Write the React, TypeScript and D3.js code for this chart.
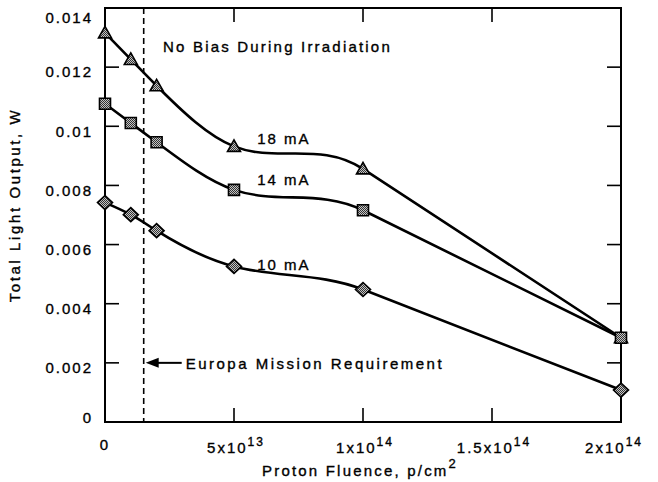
import React, { useEffect, useRef } from "react";
import * as d3 from "d3";

// proton fluence (p/cm^2)
const fluence = [0, 1e13, 2e13, 5e13, 1e14, 2e14];
const out18 = [0.01316, 0.01226, 0.01137, 0.00932, 0.00856, 0.00285];
const out14 = [0.01076, 0.01011, 0.00946, 0.00785, 0.00716, 0.00285];
const out10 = [0.00742, 0.00701, 0.00647, 0.00526, 0.00448, 0.00108];
const seriesNames = ["18 mA", "14 mA", "10 mA"];
const seriesLabelAt = [0.0094, 0.008, 0.00513];
const yTicks = [0, 0.002, 0.004, 0.006, 0.008, 0.01, 0.012, 0.014];
const yTickLabels = ["0", "0.002", "0.004", "0.006", "0.008", "0.01", "0.012", "0.014"];
const xTicks = [0, 5e13, 1e14, 1.5e14, 2e14];
const xTickBase = ["0", "5x10", "1x10", "1.5x10", "2x10"];
const xTickExp = ["", "13", "14", "14", "14"];
const europaFluence = 1.5e13;

const W = 658;
const H = 482;
const FONT = "'Liberation Sans', Arial, Helvetica, sans-serif";

// cubic spline through pts (natural start, end slope clamped to the
// following straight span), then a straight run to the last point
function splinePath(p: [number, number][]) {
  const k = p.length - 1; // spline covers p[0..k-1]
  const n = k;
  const h: number[] = [];
  const d: number[] = [];
  for (let i = 0; i < n - 1; i++) {
    h.push(p[i + 1][0] - p[i][0]);
    d.push((p[i + 1][1] - p[i][1]) / h[i]);
  }
  const mEnd = (p[k][1] - p[k - 1][1]) / (p[k][0] - p[k - 1][0]);
  // tridiagonal system for slopes m0..m(n-2)
  const a: number[] = [], b: number[] = [], c: number[] = [], r: number[] = [];
  a.push(0); b.push(2); c.push(1); r.push(3 * d[0]);
  for (let i = 1; i < n - 1; i++) {
    a.push(h[i]);
    b.push(2 * (h[i - 1] + h[i]));
    c.push(h[i - 1]);
    r.push(3 * (h[i] * d[i - 1] + h[i - 1] * d[i]));
  }
  // move known end slope to rhs
  r[n - 2] -= c[n - 2] * mEnd;
  c[n - 2] = 0;
  const N = n - 1;
  for (let i = 1; i < N; i++) {
    const w = a[i] / b[i - 1];
    b[i] -= w * c[i - 1];
    r[i] -= w * r[i - 1];
  }
  const m = new Array(n).fill(0);
  m[n - 1] = mEnd;
  m[N - 1] = r[N - 1] / b[N - 1];
  for (let i = N - 2; i >= 0; i--) m[i] = (r[i] - c[i] * m[i + 1]) / b[i];

  const path = d3.path();
  path.moveTo(p[0][0], p[0][1]);
  for (let i = 0; i < n - 1; i++) {
    const t = h[i] / 3;
    path.bezierCurveTo(
      p[i][0] + t, p[i][1] + m[i] * t,
      p[i + 1][0] - t, p[i + 1][1] - m[i + 1] * t,
      p[i + 1][0], p[i + 1][1]
    );
  }
  path.lineTo(p[k][0], p[k][1]);
  return path.toString();
}

const App = () => {
  const ref = useRef<SVGSVGElement>(null);

  useEffect(() => {
    const svg = d3.select(ref.current);
    svg.selectAll("*").remove();

    const m = { left: 105, right: 37, top: 8, bottom: 60 };
    const x = d3.scaleLinear().domain([0, 2e14]).range([m.left, W - m.right]);
    const y = d3.scaleLinear().domain([0, 0.014]).range([H - m.bottom, m.top]);

    // checker fill for markers
    const defs = svg.append("defs");
    const pat = defs.append("pattern")
      .attr("id", "chk")
      .attr("width", 2).attr("height", 2)
      .attr("patternUnits", "userSpaceOnUse");
    pat.append("rect").attr("width", 2).attr("height", 2).attr("fill", "#c4c4c4");
    pat.append("rect").attr("width", 1).attr("height", 1).attr("fill", "#333");
    pat.append("rect").attr("x", 1).attr("y", 1).attr("width", 1).attr("height", 1).attr("fill", "#333");

    const g = svg.append("g")
      .style("font-family", FONT)
      .attr("fill", "#000")
      .attr("stroke-width", 0);

    const txt = (sel: any) => sel.attr("stroke", "#000").attr("stroke-width", 0.35);

    // ticks, all pointing inward
    const tl = 14;
    yTicks.slice(1, -1).forEach(v => {
      g.append("line").attr("x1", x(0)).attr("x2", x(0) + tl).attr("y1", y(v)).attr("y2", y(v))
        .attr("stroke", "#000").attr("stroke-width", 1.6);
      g.append("line").attr("x1", x(2e14)).attr("x2", x(2e14) - tl).attr("y1", y(v)).attr("y2", y(v))
        .attr("stroke", "#000").attr("stroke-width", 1.6);
    });
    xTicks.slice(1, -1).forEach(v => {
      g.append("line").attr("x1", x(v)).attr("x2", x(v)).attr("y1", y(0)).attr("y2", y(0) - tl)
        .attr("stroke", "#000").attr("stroke-width", 1.6);
      g.append("line").attr("x1", x(v)).attr("x2", x(v)).attr("y1", y(0.014)).attr("y2", y(0.014) + tl)
        .attr("stroke", "#000").attr("stroke-width", 1.6);
    });

    // frame
    g.append("rect")
      .attr("x", x(0)).attr("y", y(0.014))
      .attr("width", x(2e14) - x(0)).attr("height", y(0) - y(0.014))
      .attr("fill", "none").attr("stroke", "#000").attr("stroke-width", 2);

    // y tick labels
    yTicks.forEach((v, i) => {
      const cy = Math.max(18, Math.min(418, y(v) + 5));
      g.append("text")
        .attr("x", 93).attr("y", cy).attr("dy", "0.35em")
        .attr("text-anchor", "end")
        .attr("font-size", 15).attr("letter-spacing", 2)
        .call(txt)
        .text(yTickLabels[i]);
    });

    // x tick labels with superscript exponents
    xTicks.forEach((v, i) => {
      const last = i === xTicks.length - 1;
      const t = g.append("text")
        .attr("x", last ? x(v) + 22 : x(v) + (i === 0 ? 0 : 2))
        .attr("y", i === 0 ? 450 : 453)
        .attr("text-anchor", last ? "end" : "middle")
        .attr("font-size", 15).attr("letter-spacing", 2)
        .call(txt);
      t.append("tspan").text(xTickBase[i]);
      if (xTickExp[i]) {
        t.append("tspan").attr("dy", -7).attr("font-size", 12).text(xTickExp[i]);
      }
    });

    // axis titles
    const xt = g.append("text")
      .attr("x", 360).attr("y", 476)
      .attr("text-anchor", "middle")
      .attr("font-size", 15).attr("letter-spacing", 2.2)
      .call(txt);
    xt.append("tspan").text("Proton Fluence, p/cm");
    xt.append("tspan").attr("dy", -8).attr("font-size", 13).text("2");

    g.append("text")
      .attr("transform", "translate(20,205) rotate(-90)")
      .attr("text-anchor", "middle")
      .attr("font-size", 15).attr("letter-spacing", 2.6)
      .call(txt)
      .text("Total Light Output, W");

    // Europa requirement line
    g.append("line")
      .attr("x1", x(europaFluence)).attr("x2", x(europaFluence))
      .attr("y1", y(0.014)).attr("y2", y(0))
      .attr("stroke", "#000").attr("stroke-width", 1.6)
      .attr("stroke-dasharray", "6,4");

    const ay = y(0.002);
    const ax = x(europaFluence) + 2;
    g.append("line").attr("x1", ax + 10).attr("x2", ax + 36).attr("y1", ay).attr("y2", ay)
      .attr("stroke", "#000").attr("stroke-width", 2);
    g.append("path")
      .attr("d", `M${ax},${ay} L${ax + 13},${ay - 5} L${ax + 13},${ay + 5} Z`)
      .attr("fill", "#000");
    g.append("text")
      .attr("x", ax + 40).attr("y", ay + 6)
      .attr("font-size", 15).attr("letter-spacing", 2.5)
      .call(txt)
      .text("Europa Mission Requirement");

    g.append("text")
      .attr("x", 163).attr("y", 52)
      .attr("font-size", 15).attr("letter-spacing", 2.2)
      .call(txt)
      .text("No Bias During Irradiation");

    // series
    const pts = (s: number[]) => s.map((v, i) => [x(fluence[i]), y(v)] as [number, number]);

    const all = [out18, out14, out10];
    all.forEach(s => {
      g.append("path").attr("d", splinePath(pts(s)))
        .attr("fill", "none").attr("stroke", "#000").attr("stroke-width", 2.6)
        .attr("stroke-linejoin", "round");
    });

    all.forEach((s, si) => {
      g.append("text")
        .attr("x", x(5.9e13)).attr("y", y(seriesLabelAt[si]))
        .attr("font-size", 15).attr("letter-spacing", 2)
        .call(txt)
        .text(seriesNames[si]);
    });

    const sym = [
      (cx: number, cy: number) => `M${cx},${cy - 6.5} L${cx + 6.5},${cy + 5} L${cx - 6.5},${cy + 5} Z`,
      (cx: number, cy: number) => `M${cx - 5.5},${cy - 5.5} h11 v11 h-11 Z`,
      (cx: number, cy: number) => `M${cx},${cy - 7} L${cx + 7.5},${cy} L${cx},${cy + 7} L${cx - 7.5},${cy} Z`,
    ];
    all.forEach((s, si) => {
      g.append("g").selectAll("path")
        .data(s)
        .enter()
        .append("path")
        .attr("d", (d, i) => sym[si](x(fluence[i]), y(d)))
        .attr("fill", "url(#chk)")
        .attr("stroke", "#000")
        .attr("stroke-width", 1.6);
    });
  }, []);

  return (
    <svg ref={ref} width={W} height={H}
      style={{ position: "absolute", left: 0, top: 0, background: "#fff" }} />
  );
};

export default App;
